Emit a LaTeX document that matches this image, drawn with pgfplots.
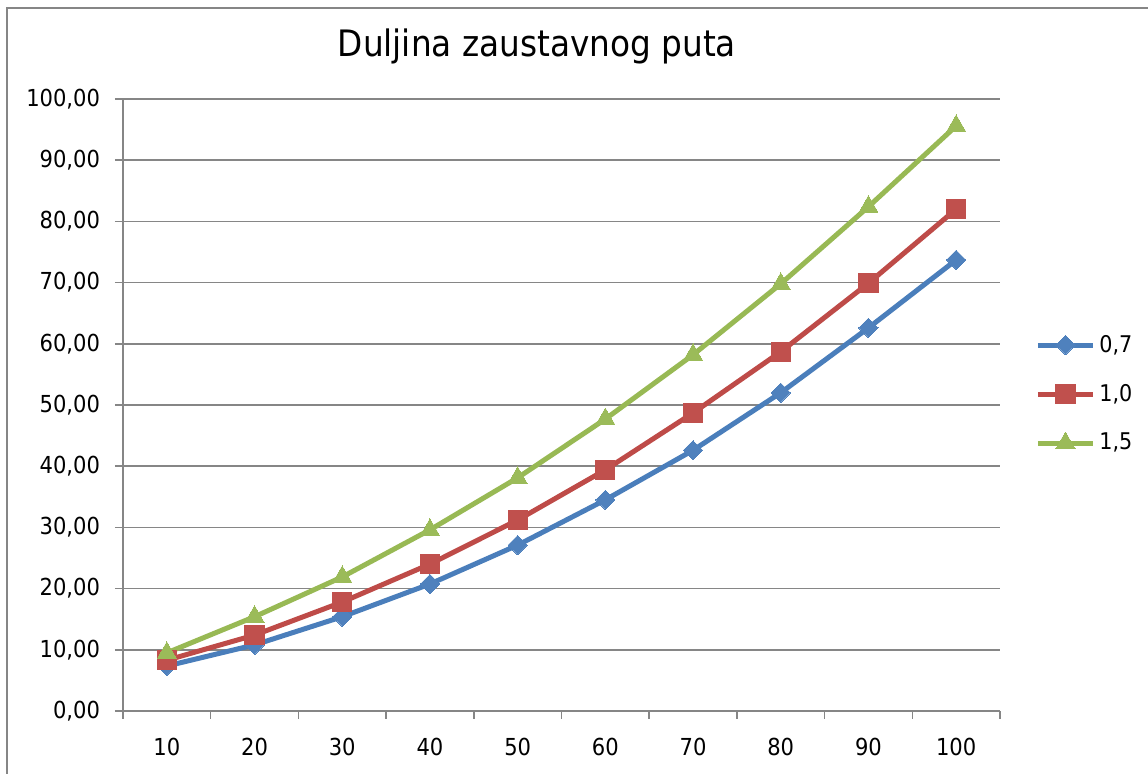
\documentclass[border=0pt]{standalone}
\usepackage{fontspec}
\setmainfont{DejaVu Sans Condensed}
\usepackage{pgfplots}
\pgfplotsset{compat=1.18}
\definecolor{cblue}{HTML}{4A7EBB}
\definecolor{cred}{HTML}{BE4B48}
\definecolor{cgreen}{HTML}{98B954}
\definecolor{mblue}{HTML}{4F81BD}
\definecolor{mred}{HTML}{C0504D}
\definecolor{mgreen}{HTML}{9BBB59}
\definecolor{axgray}{HTML}{868686}
\begin{document}
\begin{tikzpicture}
\useasboundingbox (0,0) rectangle (574pt,387pt);
\draw[axgray, line width=0.8pt] (3.5pt,-10pt) rectangle (590pt,383pt);
\begin{axis}[
  at={(61.5pt,31.5pt)}, anchor=south west,
  scale only axis, width=438.5pt, height=306pt,
  xmin=0.5, xmax=10.5, ymin=0, ymax=100,
  axis lines=left, axis line style={-, axgray, line width=0.75pt},
  xtick={1,...,10}, xticklabels={10,20,30,40,50,60,70,80,90,100},
  minor xtick={0.5,1.5,...,10.5},
  ytick={0,10,...,100},
  tick align=outside,
  major tick length=4pt, minor tick length=4pt,
  x tick style={draw=none},
  minor x tick style={draw=axgray, line width=0.75pt},
  y tick style={axgray, line width=0.75pt},
  ymajorgrids, grid style={axgray, line width=0.75pt},
  tick label style={font=\fontsize{11.7}{13}\selectfont},
  /pgf/number format/.cd, fixed, fixed zerofill, precision=2, use comma, 1000 sep={}, assume math mode=true,
  /pgfplots/.cd,
  yticklabel style={xshift=-4pt},
  xticklabel style={yshift=-6pt},
  title={Duljina zaustavnog puta},
  title style={at={(0.472,1.067)}, anchor=center, font=\fontsize{18.2}{21}\selectfont},
  legend style={at={(1.04,0.518)}, anchor=west, draw=none, fill=none,
    font=\fontsize{11.5}{13}\selectfont, row sep=10.5pt, inner sep=0pt},
  legend cell align=left,
  legend image code/.code={\draw[mark repeat=2,mark phase=2] plot coordinates {(0pt,0pt) (13.75pt,0pt) (27.5pt,0pt)};},
  every axis plot/.append style={line width=2.5pt},
]
\addplot[cblue, mark=square*, mark size=3.4pt, mark options={rotate=45, fill=mblue, draw=mblue, line width=0pt}] coordinates {
(1,7.35) (2,10.8) (3,15.4) (4,20.75) (5,27.1) (6,34.5) (7,42.6) (8,52.0) (9,62.6) (10,73.7)};
\addlegendentry{0,7}
\addplot[cred, mark=square*, mark size=4.8pt, mark options={fill=mred, draw=mred, line width=0pt}] coordinates {
(1,8.3) (2,12.4) (3,17.8) (4,24.0) (5,31.2) (6,39.4) (7,48.7) (8,58.7) (9,69.9) (10,82.0)};
\addlegendentry{1,0}
\addplot[cgreen, mark=triangle*, mark size=5.5pt, mark options={fill=mgreen, draw=mgreen, line width=0pt}] coordinates {
(1,9.5) (2,15.4) (3,21.9) (4,29.6) (5,38.1) (6,47.7) (7,58.2) (8,69.8) (9,82.4) (10,95.6)};
\addlegendentry{1,5}
\end{axis}
\end{tikzpicture}
\end{document}
